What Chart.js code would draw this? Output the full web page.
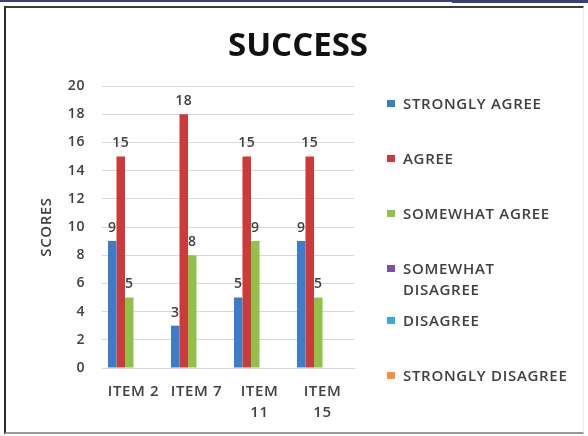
<!DOCTYPE html>
<html>
<head>
<meta charset="utf-8">
<script src="https://cdn.jsdelivr.net/npm/chart.js@4"></script>
<style>
  body { margin: 0; background: #fff; }
  #wrap { position: relative; width: 588px; height: 436px; overflow: hidden; background: #fff; }
  #topline { position: absolute; left: 0; top: 0; width: 588px; height: 2px; background: #3a3f7a; }
  #topblock { position: absolute; left: 452px; top: 0; width: 136px; height: 3px; background: #3a3f7a; }
  #frame { position: absolute; left: 4px; top: 6px; width: 577px; height: 424px;
           border-left: 2px solid #2b2b2b; border-top: 2px solid #3c3c3c;
           border-bottom: 2px solid #9a9a9a; border-right: 1px solid #eeeeee; }
  #chart { position: absolute; left: 0; top: 0; }
  #title { position: absolute; left: 0; width: 596px; top: 27px; text-align: center;
           font-family: "Open Sans", sans-serif; font-weight: 700; font-size: 33px;
           line-height: 33px; color: #111; }
  #legend { position: absolute; left: 0; top: 0; font-family: "Open Sans", sans-serif;
            font-size: 15px; font-weight: 600; letter-spacing: 0.7px; color: #404040; }
  .item { position: absolute; left: 387px; line-height: 21px; }
  .swatch { position: absolute; left: 0; top: 7px; width: 8px; height: 7px; }
  .txt { position: absolute; left: 16px; top: 0; white-space: pre; }
</style>
</head>
<body>
<div id="wrap">
  <div id="topline"></div>
  <div id="topblock"></div>
  <div id="frame"></div>
  <canvas id="chart" width="588" height="436"></canvas>
  <div id="title">SUCCESS</div>
  <div id="legend"></div>
</div>
<script>
const categories = ['ITEM 2', 'ITEM 7', ['ITEM', '11'], ['ITEM', '15']];
const seriesNames = ['STRONGLY AGREE', 'AGREE', 'SOMEWHAT AGREE', 'SOMEWHAT DISAGREE', 'DISAGREE', 'STRONGLY DISAGREE'];
const legendText = ['STRONGLY AGREE', 'AGREE', 'SOMEWHAT AGREE', 'SOMEWHAT\nDISAGREE', 'DISAGREE', 'STRONGLY DISAGREE'];
const stronglyAgree = [9, 3, 5, 9];
const agree = [15, 18, 15, 15];
const somewhatAgree = [5, 8, 9, 5];
const somewhatDisagree = [0, 0, 0, 0];
const disagree = [0, 0, 0, 0];
const stronglyDisagree = [0, 0, 0, 0];
const yMin = 0, yMax = 20, yStep = 2;

const colors = ['#3d7cc9', '#cc3a3a', '#92c14a', '#7e4fa8', '#36adcf', '#f7923a'];
const legendTops = [93, 148, 203, 258, 310, 365];
const allSeries = [stronglyAgree, agree, somewhatAgree, somewhatDisagree, disagree, stronglyDisagree];

const font = '"Open Sans", sans-serif';

// the picture's text is wide, so space the canvas letters a little
const spacing = {
  id: 'spacing',
  beforeUpdate(chart) { chart.ctx.letterSpacing = '0.6px'; },
  beforeDraw(chart) { chart.ctx.letterSpacing = '0.6px'; }
};

// value labels above each non-zero bar
const valueLabels = {
  id: 'valueLabels',
  afterDatasetsDraw(chart) {
    const ctx = chart.ctx;
    ctx.save();
    ctx.font = '600 14px ' + font;
    ctx.fillStyle = '#404040';
    ctx.textAlign = 'center';
    ctx.textBaseline = 'bottom';
    chart.data.datasets.forEach((ds, i) => {
      chart.getDatasetMeta(i).data.forEach((bar, j) => {
        const v = ds.data[j];
        if (!v) return;
        ctx.fillText(v, bar.x, bar.y - 6);
      });
    });
    ctx.restore();
  }
};

const ctx = document.getElementById('chart').getContext('2d');
new Chart(ctx, {
  type: 'bar',
  data: {
    labels: categories,
    datasets: allSeries.map((data, i) => ({
      label: seriesNames[i],
      data: data,
      backgroundColor: colors[i],
      borderWidth: 0,
      categoryPercentage: 0.81,
      barPercentage: 1.0
    }))
  },
  options: {
    responsive: false,
    animation: false,
    layout: {
      padding: { left: 30, right: 234, top: 86, bottom: 0 }
    },
    plugins: {
      legend: { display: false },
      tooltip: { enabled: false },
      title: { display: false }
    },
    scales: {
      x: {
        grid: { display: false, drawTicks: false },
        border: { color: '#d9d9d9' },
        ticks: {
          color: '#404040',
          font: { family: font, size: 15, weight: 600, lineHeight: 1.4 },
          padding: 13,
          maxRotation: 0,
          autoSkip: false
        },
        afterFit(scale) { scale.height = 68; }
      },
      y: {
        min: yMin,
        max: yMax,
        grid: { color: '#d9d9d9', drawTicks: false },
        border: { display: false },
        ticks: {
          stepSize: yStep,
          color: '#404040',
          font: { family: font, size: 14, weight: 600 },
          padding: 17
        },
        title: {
          display: true,
          text: 'SCORES',
          color: '#404040',
          font: { family: font, size: 15, weight: 600 },
          padding: { top: 8, bottom: 0 }
        },
        afterFit(scale) { scale.width = 72; }
      }
    }
  },
  plugins: [spacing, valueLabels]
});

// legend drawn as html so the long entry can wrap
const legend = document.getElementById('legend');
legendText.forEach((t, i) => {
  const item = document.createElement('div');
  item.className = 'item';
  item.style.top = legendTops[i] + 'px';
  item.innerHTML = '<span class="swatch" style="background:' + colors[i] + '"></span><span class="txt"></span>';
  item.querySelector('.txt').textContent = t;
  legend.appendChild(item);
});
</script>
</body>
</html>
